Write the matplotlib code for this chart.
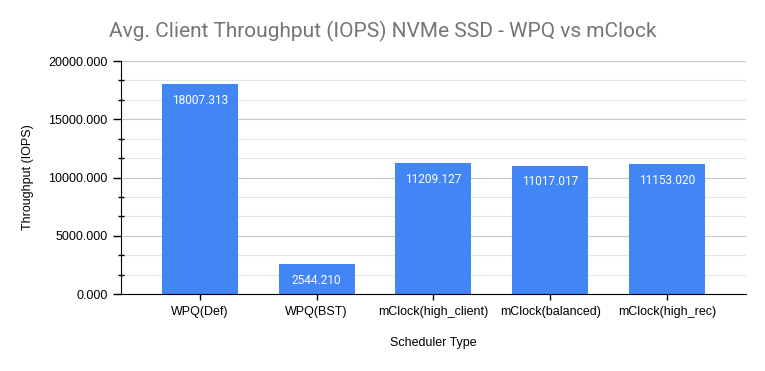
import matplotlib.pyplot as plt
from matplotlib.ticker import MultipleLocator, AutoMinorLocator

schedulers = ['WPQ(Def)', 'WPQ(BST)', 'mClock(high_client)', 'mClock(balanced)', 'mClock(high_rec)']
iops = [18007.313, 2544.210, 11209.127, 11017.017, 11153.020]

fig = plt.figure(figsize=(7.65, 3.71), dpi=100)
ax = fig.add_axes([0.158, 0.2075, 0.817, 0.628])

x = list(range(len(schedulers)))
bars = ax.bar(x, iops, width=0.65, color='#4285F4', zorder=3)

# value labels inside the top of each bar
for b, v in zip(bars, iops):
    ax.annotate('%.3f' % v, (b.get_x() + b.get_width() / 2, v),
                xytext=(0, -7), textcoords='offset points', ha='center', va='top',
                color='white', fontsize=8.6, family='Roboto', zorder=4)

ax.set_xlim(-0.675, 4.675)
ax.set_ylim(0, 20000)
ax.yaxis.set_major_locator(MultipleLocator(5000))
ax.yaxis.set_minor_locator(AutoMinorLocator(3))
ax.yaxis.set_major_formatter(lambda v, p: '%.3f' % v)
ax.grid(axis='y', which='major', color='#c8c8c8', lw=0.8, zorder=0)
ax.grid(axis='y', which='minor', color='#e6e6e6', lw=0.8, zorder=0)

ax.set_xticks(x)
ax.set_xticklabels(schedulers)
ax.tick_params(axis='x', direction='inout', length=9, width=1, labelsize=9, pad=4)
ax.tick_params(axis='y', which='major', direction='out', length=6, width=1, labelsize=9)
ax.tick_params(axis='y', which='minor', direction='inout', length=4, width=1)

for s in ['top', 'right']:
    ax.spines[s].set_visible(False)
ax.spines['left'].set_zorder(5)
ax.spines['bottom'].set_zorder(5)

ax.set_xlabel('Scheduler Type', fontsize=9, labelpad=14)
ax.set_ylabel('Throughput (IOPS)', fontsize=9, labelpad=10)
fig.text(0.5, 0.915, 'Avg. Client Throughput (IOPS) NVMe SSD - WPQ vs mClock',
         ha='center', va='center', fontsize=15, color='#757575', family='Roboto')

for t in ax.get_xticklabels() + ax.get_yticklabels():
    t.set_family('Liberation Sans')
ax.xaxis.label.set_family('Liberation Sans')
ax.yaxis.label.set_family('Liberation Sans')

fig.savefig('out.png', dpi=100)
